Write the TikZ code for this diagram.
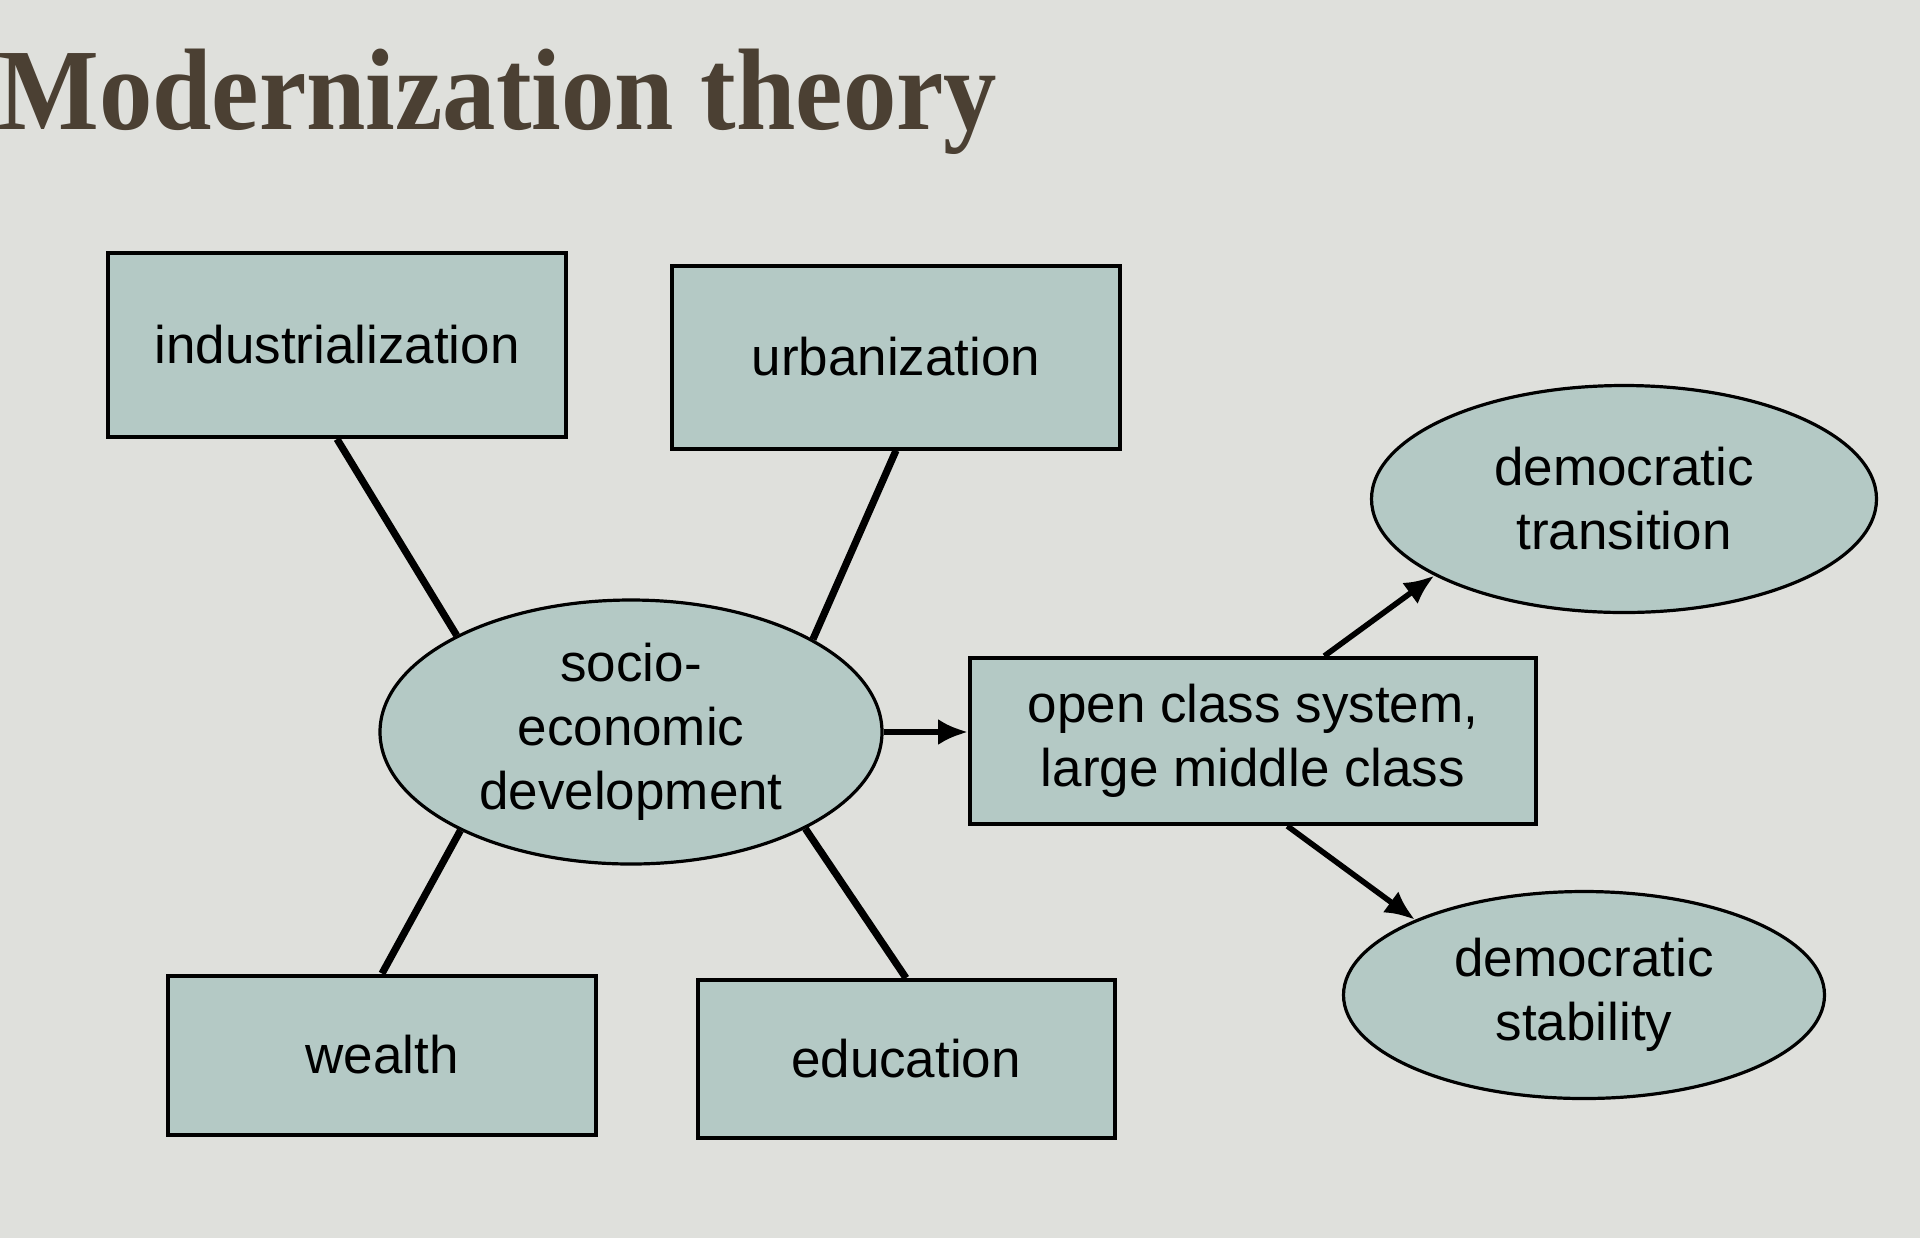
\documentclass[tikz,border=0pt]{standalone}
\usepackage{fontspec}
\setmainfont{Liberation Sans}
\newfontfamily\titlefont{Liberation Serif}
\usetikzlibrary{shapes.geometric}
\usetikzlibrary{arrows.meta}

\definecolor{bgGray}{RGB}{223,224,220}
\definecolor{boxFill}{RGB}{180,201,197}
\definecolor{titleBrown}{RGB}{75,64,51}

\tikzset{
  box/.style={draw=black, line width=2pt, fill=boxFill, inner sep=0pt, align=center,
    font=\fontsize{26.5}{32}\selectfont},
  oval/.style={ellipse, draw=black, line width=1.6pt, fill=boxFill, inner sep=0pt, align=center,
    font=\fontsize{26.5}{32}\selectfont},
  link/.style={line width=3.6pt},
  arr/.style={line width=2.8pt, -{Latex[length=15pt,width=13pt]}}
}

\begin{document}
\begin{tikzpicture}[x=0.5pt,y=0.5pt,yscale=-1,xscale=1]
%set diagram: 1920 x 1238
\useasboundingbox (0,0) rectangle (1920,1238);
\fill[bgGray] (0,0) rectangle (1920,1238);

% Title
\node[anchor=base west, inner sep=0pt, text=titleBrown,
  font=\titlefont\bfseries\fontsize{58}{64}\selectfont] (title) at (-2,129) {\scalebox{0.92}[1]{Modernization theory}};

%Shape: Rectangles
\node[box, minimum width=229pt, minimum height=92pt] (ind) at (337,345) {industrialization};
\node[box, minimum width=224pt, minimum height=91.5pt] (urb) at (896,357) {urbanization};
\node[box, minimum width=214pt, minimum height=79.5pt] (wealth) at (382,1055) {wealth};
\node[box, minimum width=208.5pt, minimum height=79pt] (edu) at (906,1059) {education};
\node[box, minimum width=283pt, minimum height=83pt] (open) at (1253,741) {open class system,\\large middle class};

%Shape: Ellipses
\node[oval, minimum width=251pt, minimum height=132pt] (socio) at (631,732) {socio-\\economic\\development};
\node[oval, minimum width=252.5pt, minimum height=113.5pt] (trans) at (1624,499) {democratic\\transition};
\node[oval, minimum width=240.5pt, minimum height=103.5pt] (stab) at (1584,995) {democratic\\stability};

%Straight Lines
\draw[link] (ind.south) -- (socio.151);
\draw[link] (urb.south) -- (socio.27);
\draw[link] (wealth.north) -- (socio.210);
\draw[link] (edu.north) -- (socio.331);

%Arrows
\draw[arr] (socio.east) -- (open.west |- socio.east);
\draw[arr] (open.50) -- (trans.202);
\draw[arr] (open.292) -- (stab.156);

\end{tikzpicture}
\end{document}
